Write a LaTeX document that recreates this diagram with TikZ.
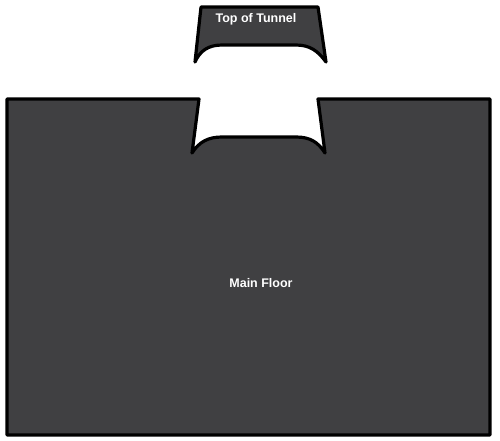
\documentclass[tikz,border=0pt]{standalone}
\usepackage{fontspec}
\setmainfont{Liberation Sans}
\usetikzlibrary{positioning}

\definecolor{floorgray}{HTML}{404042}

\begin{document}
\begin{tikzpicture}[x=1pt, y=-1pt,
	every node/.style={text=white, font=\bfseries\fontsize{12.5}{14}\selectfont, align=center},
	room/.style={draw=black, line width=3.2pt, line join=round, fill=floorgray}]
	\useasboundingbox (0,0) rectangle (500,440);
	% Main floor with the tunnel notch
	\draw[room] (7,99) -- (199,99) -- (192,153)
		.. controls (199,142) and (208,137) .. (222,137) -- (296,137)
		.. controls (310,137) and (318,142) .. (325,153) -- (318,99)
		-- (490,99) -- (490,435) -- (7,435) -- cycle;
	% Top of tunnel
	\draw[room] (201,7) -- (318,7) -- (326,62)
		.. controls (318,51) and (310,45) .. (296,45) -- (222,45)
		.. controls (208,45) and (200,51) .. (195,62) -- cycle;
	% Labels
	\node (tunneltop) at (256,19) {Top of Tunnel};
	\node (mainfloor) at (261,283) {Main Floor};
\end{tikzpicture}
\end{document}
